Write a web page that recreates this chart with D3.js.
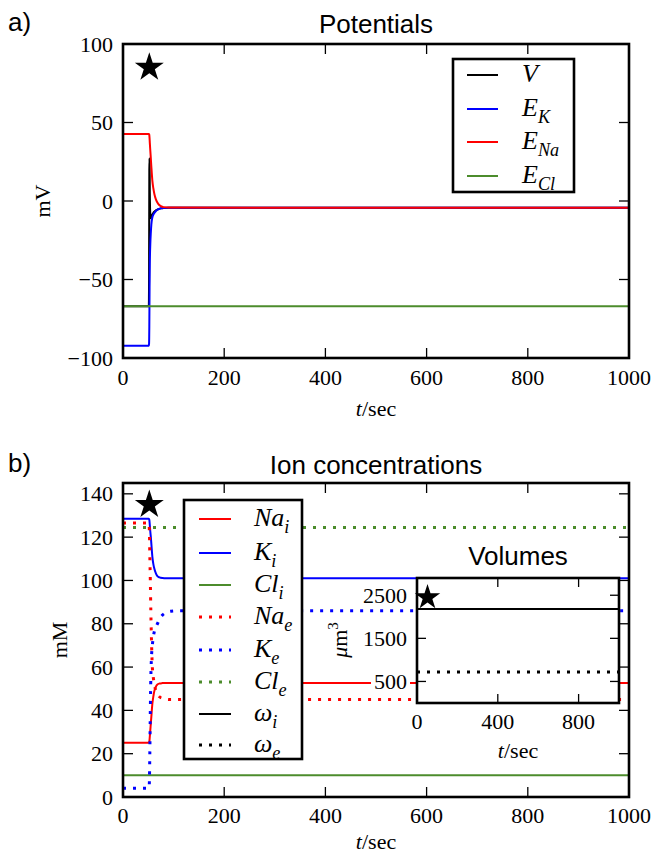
<!DOCTYPE html>
<html><head><meta charset="utf-8">
<script src="https://cdn.jsdelivr.net/npm/d3@7"></script>
<style>body{margin:0;background:#fff}svg{display:block}</style></head>
<body><svg id="c" width="652" height="857"></svg>
<script>
// ---------- DATA ----------
const tPot = [0, 51, 51.5, 52, 52.5, 53, 54, 55, 56, 58, 60, 62, 65, 70, 75, 80, 90, 1000];
const potV   = [-67, -67, -50, 20, 27, 5, -9, -11, -10, -8.5, -7.5, -6.8, -6, -5.2, -4.7, -4.4, -4.3, -4.3];
const potEK  = [-92.2, -92.2, -91, -80, -55, -40, -27, -20, -15, -10.5, -8.7, -7.6, -6.4, -5.2, -4.6, -4.4, -4.3, -4.3];
const potENa = [42.7, 42.7, 42.6, 42, 40, 37, 32, 27, 22, 13, 8, 4.5, 1, -2, -3.3, -3.9, -4.2, -4.3];
const potECl = [-67, -67, -67, -67, -67, -67, -67, -67, -67, -67, -67, -67, -67, -67, -67, -67, -67, -67];

const tConc = [0, 51, 52, 53, 54, 55, 56, 58, 60, 62, 65, 68, 72, 78, 85, 95, 110, 1000];
const concNaI = [25, 25, 25.5, 28, 31, 34, 37, 43, 46.5, 49, 51, 52, 52.4, 52.6, 52.7, 52.7, 52.7, 52.7];
const concKI  = [128.5, 128.5, 128, 125.5, 122.5, 120, 117, 111, 107.5, 105.4, 103.3, 102, 101.4, 101.1, 101, 101, 101, 101];
const concClI = [10, 10, 10, 10, 10, 10, 10, 10, 10, 10, 10, 10, 10, 10, 10, 10, 10, 10];
const concNaE = [126.5, 126.5, 124, 112, 100, 86, 75, 60, 55, 52, 49, 47.5, 46.3, 45.6, 45.2, 45, 45, 45];
const concKE  = [4, 4, 6, 20, 40, 55, 63, 70, 74, 76.5, 78.5, 80, 82, 84, 85.2, 85.8, 86, 86];
const concClE = [124.5, 124.5, 124.5, 124.5, 124.5, 124.5, 124.5, 124.5, 124.5, 124.5, 124.5, 124.5, 124.5, 124.5, 124.5, 124.5, 124.5, 124.5];

const tVol = [0, 1000];
const volOmegaI = [2180, 2180];
const volOmegaE = [720, 720];

const xTicks = [0, 200, 400, 600, 800, 1000];
const potTicks = [-100, -50, 0, 50, 100];
const concTicks = [0, 20, 40, 60, 80, 100, 120, 140];
const volXTicks = [0, 400, 800];
const volYTicks = [500, 1500, 2500];
const starT = 52, starPot = 85, starConc = 135, starVol = 2450;

// ---------- STYLE ----------
const RED = "#ff0000", BLUE = "#0000ff", GREEN = "#4c8c2c", BLACK = "#000";
const SERIF = "'Liberation Serif', 'DejaVu Serif', serif";
const SANS = "'Liberation Sans', Arial, sans-serif";
const DOT = "3 7";

const svg = d3.select("#c");
svg.append("rect").attr("width", 652).attr("height", 857).attr("fill", "#fff");

function zip(t, v) { return t.map((d, i) => [d, v[i]]); }

function frameAxes(g, x, y, xt, yt, tickLen, fs, xLabOff) {
  const [x0, x1] = x.range(), [y1, y0] = y.range();
  xt.forEach(v => {
    const px = x(v);
    g.append("line").attr("x1", px).attr("x2", px).attr("y1", y1).attr("y2", y1 - tickLen).attr("stroke", "#000").attr("stroke-width", 1.3);
    g.append("line").attr("x1", px).attr("x2", px).attr("y1", y0).attr("y2", y0 + tickLen).attr("stroke", "#000").attr("stroke-width", 1.3);
    g.append("text").attr("x", px).attr("y", y1 + xLabOff).attr("text-anchor", "middle")
      .attr("font-family", SERIF).attr("font-size", fs).text(v);
  });
  yt.forEach(v => {
    const py = y(v);
    g.append("line").attr("x1", x0).attr("x2", x0 + tickLen).attr("y1", py).attr("y2", py).attr("stroke", "#000").attr("stroke-width", 1.3);
    g.append("line").attr("x1", x1).attr("x2", x1 - tickLen).attr("y1", py).attr("y2", py).attr("stroke", "#000").attr("stroke-width", 1.3);
  });
}
function yLabels(g, x, y, yt, fs, bg) {
  const x0 = x.range()[0];
  yt.forEach(v => {
    const t = g.append("text").attr("x", x0 - 10).attr("y", y(v)).attr("text-anchor", "end")
      .attr("dominant-baseline", "central").attr("font-family", SERIF).attr("font-size", fs).text(String(v).replace("-", "\u2212"));
    if (bg) {
      const b = t.node().getBBox();
      g.insert("rect", () => t.node()).attr("x", b.x - 3).attr("y", b.y + 1).attr("width", b.width + 6).attr("height", b.height - 2).attr("fill", "#fff");
    }
  });
}
function frame(g, x, y, w) {
  const [x0, x1] = x.range(), [y1, y0] = y.range();
  g.append("rect").attr("x", x0).attr("y", y0).attr("width", x1 - x0).attr("height", y1 - y0)
    .attr("fill", "none").attr("stroke", "#000").attr("stroke-width", w || 2.6);
}
function clip(id, x, y) {
  const [x0, x1] = x.range(), [y1, y0] = y.range();
  svg.append("clipPath").attr("id", id).append("rect").attr("x", x0).attr("y", y0).attr("width", x1 - x0).attr("height", y1 - y0);
}
function series(g, x, y, t, v, color, dash, w) {
  const line = d3.line().x(d => x(d[0])).y(d => y(d[1])).curve(d3.curveMonotoneX);
  g.append("path").attr("d", line(zip(t, v))).attr("fill", "none").attr("stroke", color)
    .attr("stroke-width", dash ? 3 : (w || 2)).attr("stroke-dasharray", dash || null);
}
function mathText(g, x, y, main, sub, fs) {
  const t = g.append("text").attr("x", x).attr("y", y).attr("font-family", SERIF).attr("font-size", fs);
  t.append("tspan").attr("font-style", "italic").text(main);
  if (sub) t.append("tspan").attr("font-style", "italic").attr("font-size", fs * 0.7).attr("dy", fs * 0.25).text(sub);
  return t;
}
function tsec(g, cx, y, fs) {
  const t = g.append("text").attr("x", cx).attr("y", y).attr("text-anchor", "middle").attr("font-family", SERIF).attr("font-size", fs);
  t.append("tspan").attr("font-style", "italic").text("t");
  t.append("tspan").text("/sec");
}
function star(g, px, py, size) {
  g.append("path").attr("d", d3.symbol(d3.symbolStar, size)()).attr("transform", `translate(${px},${py})`).attr("fill", "#000");
}
function legend(g, x0, y0, w, h, rows, lx0, lx1, tx, fs) {
  g.append("rect").attr("x", x0).attr("y", y0).attr("width", w).attr("height", h).attr("fill", "#fff").attr("stroke", "#000").attr("stroke-width", 2.6);
  rows.forEach(r => {
    g.append("line").attr("x1", lx0).attr("x2", lx1).attr("y1", r.y).attr("y2", r.y).attr("stroke", r.color)
      .attr("stroke-width", r.dash ? 3 : 2).attr("stroke-dasharray", r.dash || null);
    mathText(g, tx, r.y + 7, r.main, r.sub, fs);
  });
}

// ---------- PANEL a ----------
const xA = d3.scaleLinear().domain([0, 1000]).range([123, 629]);
const yA = d3.scaleLinear().domain([-100, 100]).range([358, 44]);
clip("clipA", xA, yA);
const gA = svg.append("g");
svg.append("text").attr("x", 8).attr("y", 31).attr("font-family", SANS).attr("font-size", 26).text("a)");
svg.append("text").attr("x", 376).attr("y", 33).attr("text-anchor", "middle").attr("font-family", SANS).attr("font-size", 26).text("Potentials");
const gAL = gA.append("g").attr("clip-path", "url(#clipA)");
series(gAL, xA, yA, tPot, potV, BLACK);
series(gAL, xA, yA, tPot, potEK, BLUE);
series(gAL, xA, yA, tPot, potENa, RED);
series(gAL, xA, yA, tPot, potECl, GREEN);
star(gA, xA(starT), yA(starPot), 260);
frameAxes(gA, xA, yA, xTicks, potTicks, 10, 22, 27);
yLabels(gA, xA, yA, potTicks, 22);
frame(gA, xA, yA);
gA.append("text").attr("transform", "translate(50,201) rotate(-90)").attr("text-anchor", "middle").attr("font-family", SERIF).attr("font-size", 22).text("mV");
tsec(gA, 376, 416, 22);
legend(gA, 453, 59, 121, 133, [
  {y: 75, color: BLACK, main: "V"},
  {y: 109, color: BLUE, main: "E", sub: "K"},
  {y: 142, color: RED, main: "E", sub: "Na"},
  {y: 176, color: GREEN, main: "E", sub: "Cl"}
], 467, 498, 522, 26);

// ---------- PANEL b ----------
const xB = d3.scaleLinear().domain([0, 1000]).range([123, 629]);
const yB = d3.scaleLinear().domain([0, 145]).range([797, 483]);
clip("clipB", xB, yB);
const gB = svg.append("g");
svg.append("text").attr("x", 8).attr("y", 472).attr("font-family", SANS).attr("font-size", 26).text("b)");
svg.append("text").attr("x", 376).attr("y", 474).attr("text-anchor", "middle").attr("font-family", SANS).attr("font-size", 26).text("Ion concentrations");
const gBL = gB.append("g").attr("clip-path", "url(#clipB)");
series(gBL, xB, yB, tConc, concNaI, RED);
series(gBL, xB, yB, tConc, concKI, BLUE);
series(gBL, xB, yB, tConc, concClI, GREEN);
series(gBL, xB, yB, tConc, concNaE, RED, DOT);
series(gBL, xB, yB, tConc, concKE, BLUE, DOT);
series(gBL, xB, yB, tConc, concClE, GREEN, DOT);
star(gB, xB(starT), yB(starConc), 260);
frameAxes(gB, xB, yB, xTicks, concTicks, 10, 22, 26);
yLabels(gB, xB, yB, concTicks, 22);
frame(gB, xB, yB);
gB.append("text").attr("transform", "translate(67,640) rotate(-90)").attr("text-anchor", "middle").attr("font-family", SERIF).attr("font-size", 22).text("mM");
tsec(gB, 376, 849, 22);
legend(gB, 184, 500, 118, 259, [
  {y: 519, color: RED, main: "Na", sub: "i"},
  {y: 553, color: BLUE, main: "K", sub: "i"},
  {y: 585, color: GREEN, main: "Cl", sub: "i"},
  {y: 617, color: RED, main: "Na", sub: "e", dash: DOT},
  {y: 650, color: BLUE, main: "K", sub: "e", dash: DOT},
  {y: 682, color: GREEN, main: "Cl", sub: "e", dash: DOT},
  {y: 714, color: BLACK, main: "\u03c9", sub: "i"},
  {y: 745, color: BLACK, main: "\u03c9", sub: "e", dash: DOT}
], 199, 231, 254, 26);

// ---------- INSET: Volumes ----------
const xC = d3.scaleLinear().domain([0, 1000]).range([417, 619]);
const yC = d3.scaleLinear().domain([0, 2900]).range([703, 578]);
clip("clipC", xC, yC);
const gC = svg.append("g");
gC.append("rect").attr("x", 417).attr("y", 578).attr("width", 202).attr("height", 125).attr("fill", "#fff");
gC.append("text").attr("x", 518).attr("y", 565).attr("text-anchor", "middle").attr("font-family", SANS).attr("font-size", 26).text("Volumes");
const gCL = gC.append("g").attr("clip-path", "url(#clipC)");
series(gCL, xC, yC, tVol, volOmegaI, BLACK);
series(gCL, xC, yC, tVol, volOmegaE, BLACK, DOT);
star(gC, xC(starT), yC(starVol), 200);
frameAxes(gC, xC, yC, volXTicks, volYTicks, 9, 22, 26);
yLabels(gC, xC, yC, volYTicks, 22, true);
frame(gC, xC, yC);
const mu = gC.append("text").attr("transform", "translate(347,640) rotate(-90)").attr("text-anchor", "middle").attr("font-family", SERIF).attr("font-size", 22);
mu.append("tspan").attr("font-style", "italic").text("\u03bc");
mu.append("tspan").text("m");
mu.append("tspan").attr("font-size", 15).attr("dy", -9).text("3");
tsec(gC, 518, 758, 22);
</script></body></html>
